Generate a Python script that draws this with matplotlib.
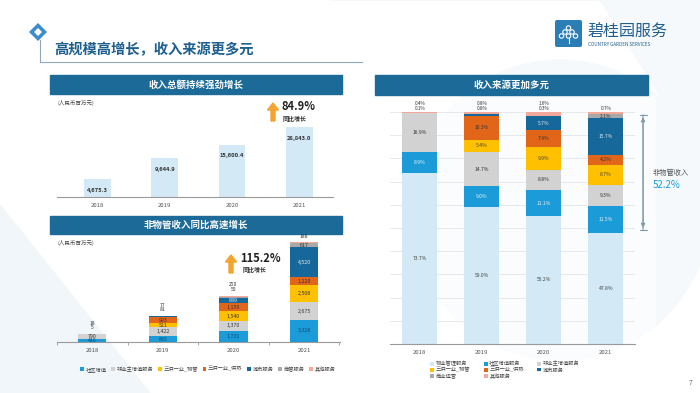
import matplotlib
matplotlib.use("Agg")
import matplotlib.pyplot as plt
from matplotlib.patches import Rectangle, Polygon, FancyArrow, Circle, FancyBboxPatch, Patch
import numpy as np

plt.rcParams['font.family'] = ['Noto Sans CJK SC', 'DejaVu Sans']

# ---------------- data ----------------
years = ['2018', '2019', '2020', '2021']

# total revenue (RMB million)
total_revenue = [4675.3, 9644.9, 15600.4, 28843.0]
total_growth = '84.9%'

# non-property-management revenue (RMB million)
nonpm_labels = ['社区增值', '非业主增值服务', '三供一业_物管', '三供一业_供热', '城市服务', '商管服务', '其他服务']
comm_amt = [416, 865, 1731, 3328]
nonown_amt = [790, 1422, 1370, 2675]
sgwg_amt = [0, 521, 1540, 2508]
heat_amt = [0, 993, 1159, 1220]
city_amt = [0, 81, 889, 4520]
commercial_amt = [5, 0, 50, 617]
other_amt = [18, 77, 250, 188]
nonpm_growth = '115.2%'

# revenue mix (%)
mix_labels = ['物业管理服务', '社区增值服务', '非业主增值服务', '三供一业_物管', '三供一业_供热', '城市服务', '商业运营', '其他服务']
pm_pct = [73.7, 59.0, 55.2, 47.8]
comm_pct = [8.9, 9.0, 11.1, 11.5]
nonown_pct = [16.9, 14.7, 8.8, 9.3]
sgwg_pct = [0, 5.4, 9.9, 8.7]
heat_pct = [0, 10.3, 7.4, 4.2]
city_pct = [0, 0.8, 5.7, 15.7]
commercial_pct = [0.1, 0, 0.3, 2.1]
other_pct = [0.4, 0.8, 1.6, 0.7]
nonpm_share = '52.2%'

# ---------------- style ----------------
C_PM = '#d3e9f5'
C_COMM = '#1b9bd7'
C_NONOWN = '#d2d2d2'
C_SGWG = '#ffc000'
C_HEAT = '#e2661a'
C_CITY = '#16689a'
C_COMMERCIAL = '#a8a8a8'
C_OTHER = '#f2a99c'
BANNER = '#1b6a98'
TITLE_C = '#1d5f8e'
ARROW_C = '#f2a42e'

W, H = 700, 393
fig = plt.figure(figsize=(7, 3.93), dpi=100)
fig.patch.set_facecolor('white')


def box(x0, y0, x1, y1):
    return [x0 / W, 1 - y1 / H, (x1 - x0) / W, (y1 - y0) / H]


# background / decoration layer in pixel coords
bg = fig.add_axes([0, 0, 1, 1], zorder=-5)
bg.set_xlim(0, W)
bg.set_ylim(H, 0)
bg.axis('off')

# faint background shapes
bg.add_patch(Polygon([(0, 205), (150, 393), (0, 393)], closed=True, color='#f1f6fa', zorder=0))
bg.add_patch(Polygon([(330, 0), (700, 0), (700, 160), (600, 0)], closed=True, color='#f6f9fc', zorder=0))
bg.add_patch(Circle((560, 210), 150, color='#f5f9fc', zorder=0))
bg.add_patch(Rectangle((365, 96), 290, 290, color='white', alpha=0.6, zorder=0))

# title decoration
bg.plot([40, 40], [40, 62], color='#8ea9bf', lw=0.8, zorder=1)
bg.plot([40, 362], [62, 62], color='#8ea9bf', lw=0.8, zorder=1)
bg.add_patch(Polygon([(38, 23), (47, 32), (38, 41), (29, 32)], closed=True,
                     facecolor='#3a8dcc', edgecolor='none', zorder=2))
bg.add_patch(Polygon([(38, 28), (42, 32), (38, 36), (34, 32)], closed=True,
                     facecolor='white', edgecolor='none', zorder=3))
bg.text(54, 50, '高规模高增长，收入来源更多元', fontsize=10.3, fontweight='bold',
        color=TITLE_C, va='center', ha='left', zorder=3)

# logo
bg.add_patch(FancyBboxPatch((555, 20), 27, 27, boxstyle='round,pad=0,rounding_size=2',
                            facecolor='#2b7db6', edgecolor='none', zorder=2))
for (cx, cy) in [(568.5, 28), (565, 32), (572, 32), (561.5, 36), (568.5, 36), (575.5, 36)]:
    bg.add_patch(Circle((cx, cy), 2.2, facecolor='none', edgecolor='white', lw=0.8, zorder=3))
bg.plot([568.5, 568.5], [38, 43], color='white', lw=0.8, zorder=3)
bg.text(588, 32, '碧桂园服务', fontsize=11.5, color='#1f5d8f', va='center', ha='left', zorder=3)
bg.text(588, 44.5, 'COUNTRY GARDEN SERVICES', fontsize=3.3, color='#1f5d8f', va='center', ha='left', zorder=3)

# banners
for (x0, y0, x1, y1, t) in [(50, 75, 342, 94, '收入总额持续强劲增长'),
                            (50, 216, 342, 234, '非物管收入同比高速增长'),
                            (375, 75, 648, 95, '收入来源更加多元')]:
    bg.add_patch(Rectangle((x0, y0), x1 - x0, y1 - y0, color=BANNER, zorder=2))
    bg.text((x0 + x1) / 2, (y0 + y1) / 2, t, fontsize=6.8, fontweight='bold', color='white',
            ha='center', va='center', zorder=3)

bg.text(58, 103, '(人民币百万元)', fontsize=4, color='#444444', va='center', ha='left')
bg.text(58, 243, '(人民币百万元)', fontsize=4, color='#444444', va='center', ha='left')

# growth arrows
bg.add_patch(FancyArrow(273, 121, 0, -18, width=4, head_width=11, head_length=7,
                        length_includes_head=True, color=ARROW_C, zorder=3))
bg.text(282, 107, total_growth, fontsize=8, fontweight='bold', color='#222222', va='center', ha='left')
bg.text(283, 118.5, '同比增长', fontsize=4.3, fontweight='bold', color='#333333', va='center', ha='left')

bg.add_patch(FancyArrow(231, 273, 0, -18, width=4, head_width=11, head_length=7,
                        length_includes_head=True, color=ARROW_C, zorder=3))
bg.text(240, 258, nonpm_growth, fontsize=8, fontweight='bold', color='#222222', va='center', ha='left')
bg.text(243, 269.5, '同比增长', fontsize=4.3, fontweight='bold', color='#333333', va='center', ha='left')

bg.text(691, 383, '7', fontsize=5, color='#666666', ha='center', va='center')

# ---------------- chart 1: total revenue ----------------
ax1 = fig.add_axes(box(57, 127, 333, 197))
ax1.set_facecolor('none')
x = np.arange(len(years))
ax1.set_yscale('log')
ax1.bar(x, total_revenue, width=0.4, color=C_PM, zorder=2)
ax1.set_ylim(2500, max(total_revenue))
ax1.set_xlim(-0.6, 3.5)
for xi, v in zip(x, total_revenue):
    ax1.annotate(f'{v:,.1f}', (xi, v), xytext=(0, -8), textcoords='offset points',
                 ha='center', va='center', fontsize=4.2, fontweight='bold', color='#333333')
ax1.set_xticks(x)
ax1.set_xticklabels(years, fontsize=4.3, color='#555555')
ax1.tick_params(axis='x', length=0, pad=4)
ax1.set_yticks([])
ax1.minorticks_off()
ax1.tick_params(axis='y', which='both', left=False, labelleft=False)
for s in ['top', 'right', 'left']:
    ax1.spines[s].set_visible(False)
ax1.spines['bottom'].set_color('#9a9a9a')
ax1.spines['bottom'].set_linewidth(0.8)

# ---------------- chart 2: non-PM revenue ----------------
ax2 = fig.add_axes(box(57, 242, 340, 342))
ax2.set_facecolor('none')
series2 = [comm_amt, nonown_amt, sgwg_amt, heat_amt, city_amt, commercial_amt, other_amt]
colors2 = [C_COMM, C_NONOWN, C_SGWG, C_HEAT, C_CITY, C_COMMERCIAL, C_OTHER]
txt2 = ['#0f4a75', '#333333', '#333333', '#333333', '#e8eef3', '#333333', '#333333']
bottom = np.zeros(len(years))
handles2 = []
small2 = {i: [] for i in range(len(years))}
for vals, c, tc, lab in zip(series2, colors2, txt2, nonpm_labels):
    vals = np.array(vals, dtype=float)
    ax2.bar(x, vals, width=0.4, bottom=bottom, color=c, zorder=2)
    for i, (xi, b, v) in enumerate(zip(x, bottom, vals)):
        if v >= 300:
            ax2.text(xi, b + v / 2, f'{int(v):,}', ha='center', va='center', fontsize=3.8,
                     color=tc, zorder=3)
        elif v > 0:
            small2[i].append(f'{int(v):,}')
    bottom += vals
    handles2.append(Patch(facecolor=c, label=lab))
for i, labs in small2.items():
    for k, t in enumerate(labs):
        ax2.annotate(t, (x[i], bottom[i]), xytext=(0, 2.5 + 3.4 * k), textcoords='offset points',
                     ha='center', va='bottom', fontsize=3.6, color='#333333', annotation_clip=False)
ax2.set_ylim(0, bottom.max())
ax2.set_xlim(-0.5, 3.51)
ax2.set_xticks(x)
ax2.set_xticklabels(years, fontsize=4.3, color='#555555')
ax2.set_xticks([-0.5, 0.5, 1.5, 2.5, 3.5], minor=True)
ax2.tick_params(axis='x', which='major', length=0, pad=4)
ax2.tick_params(axis='x', which='minor', length=2, color='#9a9a9a', width=0.6)
ax2.set_yticks([])
for s in ['top', 'right', 'left']:
    ax2.spines[s].set_visible(False)
ax2.spines['bottom'].set_color('#9a9a9a')
ax2.spines['bottom'].set_linewidth(0.8)

fig.legend(handles=handles2, loc='center', bbox_to_anchor=(208 / W, 1 - 369 / H), ncol=7,
           fontsize=3.8, frameon=False, handlelength=0.7, handleheight=0.7, handletextpad=0.3,
           columnspacing=0.9, labelcolor='#444444')

# ---------------- chart 3: revenue mix ----------------
ax3 = fig.add_axes(box(390, 112, 635, 344))
ax3.set_facecolor('none')
series3 = [pm_pct, comm_pct, nonown_pct, sgwg_pct, heat_pct, city_pct, commercial_pct, other_pct]
colors3 = [C_PM, C_COMM, C_NONOWN, C_SGWG, C_HEAT, C_CITY, C_COMMERCIAL, C_OTHER]
txt3 = ['#444444', '#e8f2f8', '#333333', '#444444', '#333333', '#dfe9f0', '#333333', '#333333']
bottom3 = np.zeros(len(years))
handles3 = []
small3 = {i: [] for i in range(len(years))}
for vals, c, tc, lab in zip(series3, colors3, txt3, mix_labels):
    vals = np.array(vals, dtype=float)
    ax3.bar(x, vals, width=0.56, bottom=bottom3, color=c, zorder=2)
    for i, (xi, b, v) in enumerate(zip(x, bottom3, vals)):
        if v >= 2:
            ax3.text(xi, b + v / 2, f'{v:.1f}%', ha='center', va='center', fontsize=3.6,
                     color=tc, zorder=3)
        elif v > 0:
            small3[i].append(f'{v:.1f}%')
    bottom3 += vals
    handles3.append(Patch(facecolor=c, label=lab))
for i, labs in small3.items():
    for k, t in enumerate(labs):
        ax3.annotate(t, (x[i], 100), xytext=(0, 0.8 + 3.4 * k), textcoords='offset points',
                     ha='center', va='bottom', fontsize=3.4, color='#333333', annotation_clip=False)
ax3.set_ylim(0, 100)
ax3.set_xlim(-0.48, 3.47)
ax3.set_yticks(np.arange(0, 101, 10))
ax3.yaxis.grid(True, color='#e3e6e9', lw=0.6, zorder=0)
ax3.set_axisbelow(True)
ax3.tick_params(axis='y', length=0, labelleft=False)
ax3.set_xticks(x)
ax3.set_xticklabels(years, fontsize=4.3, color='#555555')
ax3.tick_params(axis='x', length=0, pad=4)
for s in ['top', 'right', 'left']:
    ax3.spines[s].set_visible(False)
ax3.spines['bottom'].set_color('#9a9a9a')
ax3.spines['bottom'].set_linewidth(0.8)

# bracket showing non-PM share
ax3.annotate('', xy=(3.6, 100), xytext=(3.6, pm_pct[-1]), xycoords='data',
             arrowprops=dict(arrowstyle='|-|,widthA=0.25,widthB=0.25', color='#7f99ad', lw=0.8),
             annotation_clip=False)
ax3.annotate('', xy=(3.6, 99), xytext=(3.6, pm_pct[-1] + 1), xycoords='data',
             arrowprops=dict(arrowstyle='<|-|>,head_length=0.25,head_width=0.12', color='#7f99ad', lw=0.8),
             annotation_clip=False)
bg.text(653, 173, '非物管收入', fontsize=5.2, color='#555555', ha='left', va='center')
bg.text(653, 185, nonpm_share, fontsize=7, color=C_COMM, ha='left', va='center')

order = [0, 3, 6, 1, 4, 7, 2, 5]
fig.legend(handles=[handles3[i] for i in order], loc='center', bbox_to_anchor=(505 / W, 1 - 370 / H),
           ncol=3, fontsize=3.8, frameon=False, handlelength=0.7, handleheight=0.7, handletextpad=0.3,
           columnspacing=2.6, labelspacing=0.15, labelcolor='#444444')

fig.savefig('out.png', dpi=100)
